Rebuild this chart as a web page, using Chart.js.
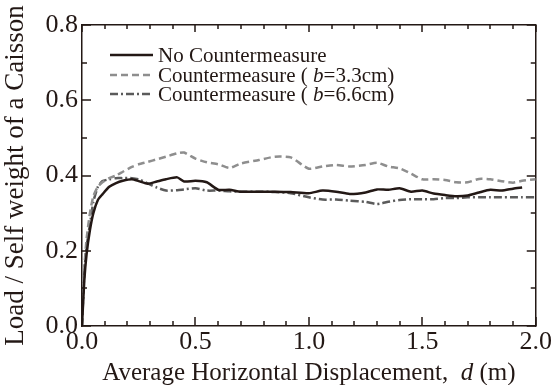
<!DOCTYPE html>
<html>
<head>
<meta charset="utf-8">
<script src="https://cdn.jsdelivr.net/npm/chart.js@4/dist/chart.umd.min.js"></script>
<style>
  html, body { margin: 0; padding: 0; background: #fff; }
  #wrap { width: 553px; height: 385px; }
</style>
</head>
<body>
<div id="wrap"><canvas id="chart" width="553" height="385"></canvas></div>
<script>
// displacement d (m)
const dispX = [0, 0.01, 0.02, 0.035, 0.05, 0.07, 0.09, 0.12, 0.15, 0.18, 0.22, 0.25, 0.29, 0.33, 0.37, 0.42, 0.45,
  0.5, 0.55, 0.6, 0.65, 0.7, 0.78, 0.85, 0.92, 1.0, 1.06, 1.12, 1.18, 1.25, 1.3, 1.35, 1.4, 1.45,
  1.5, 1.55, 1.6, 1.65, 1.7, 1.75, 1.8, 1.85, 1.9, 1.94, 2.0];

// load / self weight
const noCountermeasure = [0, 0.12, 0.19, 0.255, 0.3, 0.335, 0.35, 0.37, 0.38, 0.386, 0.39, 0.385, 0.378, 0.384, 0.39, 0.395, 0.384,
  0.386, 0.382, 0.362, 0.362, 0.357, 0.357, 0.357, 0.356, 0.353, 0.36, 0.357, 0.351, 0.355, 0.363, 0.362, 0.366, 0.357,
  0.36, 0.352, 0.348, 0.345, 0.347, 0.355, 0.362, 0.36, 0.365, 0.368, null];
const countermeasure33 = [0, 0.15, 0.23, 0.3, 0.345, 0.37, 0.382, 0.393, 0.4, 0.41, 0.423, 0.43, 0.436, 0.443, 0.45, 0.459, 0.461,
  0.445, 0.435, 0.43, 0.42, 0.432, 0.441, 0.45, 0.448, 0.418, 0.424, 0.428, 0.424, 0.428, 0.434, 0.424, 0.419, 0.405,
  0.39, 0.39, 0.388, 0.382, 0.382, 0.391, 0.39, 0.385, 0.381, 0.386, 0.39];
const countermeasure66 = [0, 0.14, 0.21, 0.27, 0.33, 0.37, 0.385, 0.39, 0.393, 0.393, 0.393, 0.39, 0.379, 0.368, 0.36, 0.361, 0.363,
  0.366, 0.36, 0.36, 0.358, 0.357, 0.357, 0.356, 0.353, 0.342, 0.336, 0.336, 0.333, 0.33, 0.324, 0.33, 0.335, 0.337,
  0.337, 0.337, 0.34, 0.34, 0.342, 0.342, 0.342, 0.342, 0.342, 0.342, 0.342];

const legendNames = ['No Countermeasure', 'Countermeasure ( ', 'Countermeasure ( '];
const legendB = ['', '=3.3cm)', '=6.6cm)'];

const serif = 'Liberation Serif';
const ink = '#231815';
Chart.defaults.font.family = serif;

function toPoints(ys) {
  return dispX.map((x, i) => ({ x: x, y: ys[i] }));
}

const series = [
  { data: noCountermeasure, color: ink, dash: [] },
  { data: countermeasure33, color: '#8e8e8e', dash: [7, 4] },
  { data: countermeasure66, color: '#5b5b5b', dash: [8, 3, 2, 3] }
];

// inward tick marks, legend and x title
const decorations = {
  id: 'decorations',
  afterDraw(chart) {
    const ctx = chart.ctx;
    const a = chart.chartArea;
    const x = chart.scales.x;
    const y = chart.scales.y;
    ctx.save();
    ctx.strokeStyle = ink;
    ctx.lineWidth = 1.5;
    for (let i = 0; i <= 20; i++) {
      const px = Math.round(x.getPixelForValue(i / 10));
      const len = i % 5 === 0 ? 9 : 5;
      ctx.beginPath();
      ctx.moveTo(px, a.bottom); ctx.lineTo(px, a.bottom - len);
      ctx.moveTo(px, a.top); ctx.lineTo(px, a.top + (i % 5 === 0 ? 7 : 4));
      ctx.stroke();
    }
    for (let i = 0; i <= 8; i++) {
      const py = Math.round(y.getPixelForValue(i / 10));
      const len = i % 2 === 0 ? 9 : 5;
      ctx.beginPath();
      ctx.moveTo(a.left, py); ctx.lineTo(a.left + len, py);
      ctx.moveTo(a.right, py); ctx.lineTo(a.right - len, py);
      ctx.stroke();
    }

    // legend
    const lf = '21px "' + serif + '"';
    ctx.textBaseline = 'middle';
    ctx.fillStyle = ink;
    const rows = [55, 75, 94];
    series.forEach((s, i) => {
      ctx.strokeStyle = s.color;
      ctx.lineWidth = 2.5;
      ctx.setLineDash(s.dash);
      ctx.beginPath();
      ctx.moveTo(110, rows[i]); ctx.lineTo(153, rows[i]);
      ctx.stroke();
      ctx.setLineDash([]);
      let tx = 158;
      ctx.font = lf;
      ctx.fillText(legendNames[i], tx, rows[i] + 1);
      if (legendB[i]) {
        tx += ctx.measureText(legendNames[i]).width;
        ctx.font = 'italic ' + lf;
        ctx.fillText('b', tx, rows[i] + 1);
        tx += ctx.measureText('b').width;
        ctx.font = lf;
        ctx.fillText(legendB[i], tx, rows[i] + 1);
      }
    });

    // x axis title with italic d
    const parts = [['Average Horizontal Displacement,  ', ''], ['d', 'italic '], [' (m)', '']];
    const tf = '25px "' + serif + '"';
    let total = 0;
    parts.forEach(p => { ctx.font = p[1] + tf; total += ctx.measureText(p[0]).width; });
    let tx = (a.left + a.right) / 2 - total / 2;
    ctx.textBaseline = 'alphabetic';
    parts.forEach(p => {
      ctx.font = p[1] + tf;
      ctx.fillText(p[0], tx, 380);
      tx += ctx.measureText(p[0]).width;
    });
    ctx.restore();
  }
};

new Chart(document.getElementById('chart'), {
  type: 'line',
  data: {
    datasets: series.map((s, i) => ({
      label: legendNames[i] + legendB[i],
      data: toPoints(s.data),
      borderColor: s.color,
      borderDash: s.dash,
      borderWidth: 2.5,
      pointRadius: 0,
      tension: 0.2,
      fill: false,
      spanGaps: false
    }))
  },
  options: {
    responsive: false,
    animation: false,
    layout: { padding: 0 },
    plugins: {
      legend: { display: false },
      tooltip: { enabled: false }
    },
    scales: {
      x: {
        type: 'linear',
        position: 'bottom',
        min: 0,
        max: 2,
        ticks: {
          stepSize: 0.5,
          color: ink,
          padding: 1,
          font: { family: serif, size: 26 },
          callback: v => v.toFixed(1)
        },
        grid: { display: false, drawTicks: false },
        border: { display: true, color: ink, width: 1.5 },
        afterFit: s => { s.height = 59; }
      },
      x2: {
        type: 'linear',
        position: 'top',
        min: 0,
        max: 2,
        ticks: { display: false },
        grid: { display: false, drawTicks: false },
        border: { display: true, color: ink, width: 1.5 },
        afterFit: s => { s.height = 25; }
      },
      y: {
        type: 'linear',
        position: 'left',
        min: 0,
        max: 0.8,
        ticks: {
          stepSize: 0.2,
          color: ink,
          padding: 4,
          font: { family: serif, size: 26 },
          callback: v => v.toFixed(1)
        },
        title: {
          display: true,
          text: 'Load / Self weight of a Caisson',
          color: ink,
          font: { family: serif, size: 27 },
          padding: { top: 0, bottom: 0 }
        },
        grid: { display: false, drawTicks: false },
        border: { display: true, color: ink, width: 1.5 },
        afterFit: s => { s.width = 82; }
      },
      y2: {
        type: 'linear',
        position: 'right',
        min: 0,
        max: 0.8,
        ticks: { display: false },
        grid: { display: false, drawTicks: false },
        border: { display: true, color: ink, width: 1.5 },
        afterFit: s => { s.width = 17; }
      }
    }
  },
  plugins: [decorations]
});
</script>
</body>
</html>
